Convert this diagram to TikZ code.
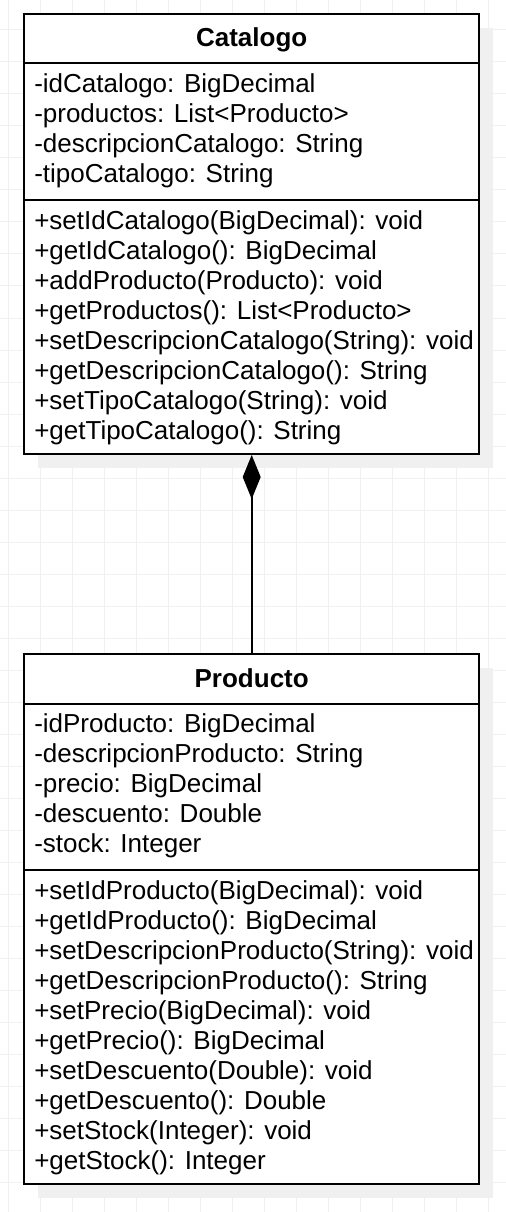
\documentclass[tikz,border=0pt]{standalone}
\usepackage{fontspec}
\setmainfont{Liberation Sans}
\usetikzlibrary{arrows.meta}
\tikzset{
  umlbox/.style={draw, line width=1.5pt, fill=white, inner sep=0pt},
  umltext/.style={anchor=base west, align=left, inner sep=0pt, font=\fontsize{19.5pt}{22.5pt}\selectfont},
  umltitle/.style={anchor=base, inner sep=0pt, font=\fontsize{19.5pt}{22.5pt}\selectfont\bfseries},
  boxshade/.style={fill=black!6},
  gridline/.style={black!6, line width=0.75pt},
  sepline/.style={line width=1.5pt},
}
\begin{document}
\begin{tikzpicture}[x=0.75pt, y=-0.75pt]
\useasboundingbox (0,0) rectangle (506,1212);
% Raster
\foreach \x in {8.7,40.7,...,490}
    \draw[gridline] (\x,0) -- (\x,1212);
\foreach \y in {30,62,...,1190}
    \draw[gridline] (0,\y) -- (506,\y);
% Schaduw
\fill[boxshade] (38,28) rectangle (493,468);
\fill[boxshade] (38,668) rectangle (493,1198);
% Klasse Catalogo
\node[umlbox, minimum width=341.25pt, minimum height=330pt] (catalogo) at (251.7,234) {};
\draw[sepline] (24,63) -- (479,63);
\draw[sepline] (24,200) -- (479,200);
\node[umltitle] (catalogoTitel) at (251.7,46.7) {Catalogo};
% (base = laatste regel)
\node[umltext] (catalogoAttr) at (34,183) {-idCatalogo: BigDecimal\\-productos: List<Producto>\\-descripcionCatalogo: String\\-tipoCatalogo: String};
\node[umltext] (catalogoOps) at (34,439) {+setIdCatalogo(BigDecimal): void\\+getIdCatalogo(): BigDecimal\\+addProducto(Producto): void\\+getProductos(): List<Producto>\\+setDescripcionCatalogo(String): void\\+getDescripcionCatalogo(): String\\+setTipoCatalogo(String): void\\+getTipoCatalogo(): String};
% Klasse Producto
\node[umlbox, minimum width=341.25pt, minimum height=397.5pt] (producto) at (251.7,919) {};
\draw[sepline] (24,704) -- (479,704);
\draw[sepline] (24,870) -- (479,870);
\node[umltitle] (productoTitel) at (251.7,687) {Producto};
\node[umltext] (productoAttr) at (34,852) {-idProducto: BigDecimal\\-descripcionProducto: String\\-precio: BigDecimal\\-descuento: Double\\-stock: Integer};
\node[umltext] (productoOps) at (34,1169) {+setIdProducto(BigDecimal): void\\+getIdProducto(): BigDecimal\\+setDescripcionProducto(String): void\\+getDescripcionProducto(): String\\+setPrecio(BigDecimal): void\\+getPrecio(): BigDecimal\\+setDescuento(Double): void\\+getDescuento(): Double\\+setStock(Integer): void\\+getStock(): Integer};
% Compositie
\draw[line width=1.5pt, {Diamond[length=33pt, width=13.5pt]}-] (catalogo.south) -- (producto.north);
\end{tikzpicture}
\end{document}
